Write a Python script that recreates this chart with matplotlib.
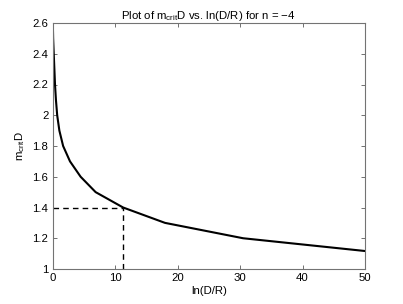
import matplotlib
matplotlib.use('Agg')
import matplotlib.pyplot as plt

# curve
lnDR = [0.05, 0.1, 0.2, 0.3, 0.4, 0.55, 0.75, 1.1, 1.7, 2.8, 4.5, 6.9, 11.3, 18.0, 30.5, 50.0]
mcritD = [2.6, 2.5, 2.4, 2.3, 2.2, 2.1, 2.0, 1.9, 1.8, 1.7, 1.6, 1.5, 1.4, 1.3, 1.2, 1.117]
x_mark = 11.3
y_mark = 1.4

plt.rcParams['font.family'] = ['Liberation Sans', 'DejaVu Sans']
plt.rcParams['mathtext.default'] = 'regular'
fs = 8.2

fig = plt.figure(figsize=(4.03, 3.04), dpi=100)
ax = fig.add_axes([52.5/403, 35/304, (365-52.5)/403, (269-23)/304])

ax.plot(lnDR, mcritD, color='black', linewidth=1.5)
ax.plot([0, x_mark], [y_mark, y_mark], 'k--', linewidth=1.0, dashes=(4, 3))
ax.plot([x_mark, x_mark], [1, y_mark], 'k--', linewidth=1.0, dashes=(4, 3))

ax.set_xlim(0, 50)
ax.set_ylim(1, 2.6)
ax.set_xticks([0, 10, 20, 30, 40, 50])
ax.set_yticks([1, 1.2, 1.4, 1.6, 1.8, 2, 2.2, 2.4, 2.6])
ax.set_yticklabels(['1', '1.2', '1.4', '1.6', '1.8', '2', '2.2', '2.4', '2.6'])
ax.tick_params(direction='in', top=True, right=True, length=3, width=0.6,
               color='0.35', labelsize=fs, pad=3)
for s in ax.spines.values():
    s.set_color('0.45')
    s.set_linewidth(0.8)

ax.set_title('Plot of m$_{crit}$D vs. ln(D/R) for n = \u22124', fontsize=fs, pad=3)
ax.set_xlabel('ln(D/R)', fontsize=fs, labelpad=2)
ax.set_ylabel('m$_{crit}$D', fontsize=fs, labelpad=4)

fig.savefig('out.png', dpi=100)
